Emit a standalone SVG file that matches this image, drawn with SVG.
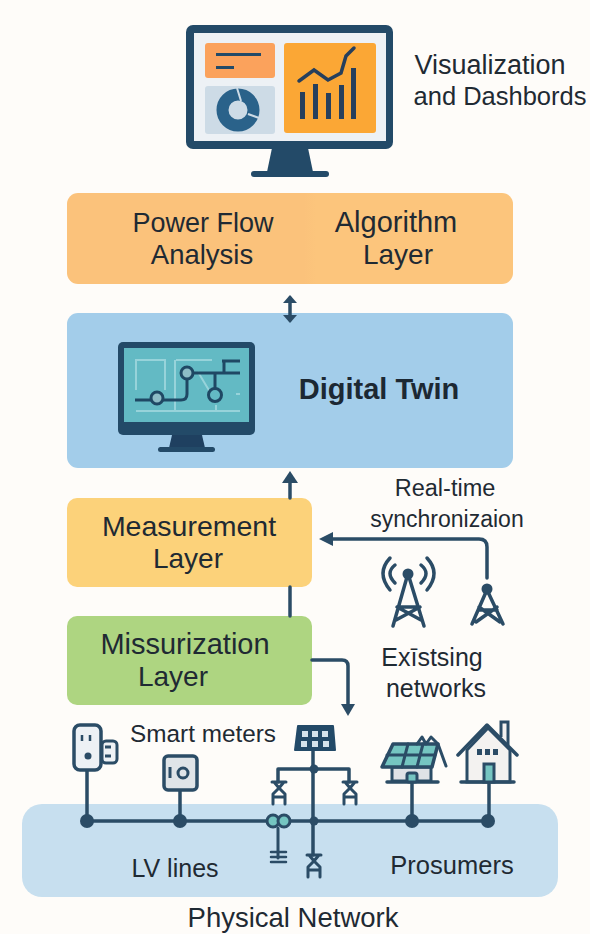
<svg xmlns="http://www.w3.org/2000/svg" width="590" height="934" viewBox="0 0 590 934">
<style>
text{font-family:"Liberation Sans",Arial,sans-serif;font-size:27px;fill:#1f2a33;text-anchor:middle}
.s{fill:none;stroke:#2b4c66;stroke-width:3.5;stroke-linecap:round;stroke-linejoin:round}
.t{fill:none;stroke:#2b4c66;stroke-width:3.5;stroke-linejoin:round;stroke-linecap:round}
.d{fill:#2b4c66}
.k{fill:none;stroke:#1f4864;stroke-width:3}
</style>
<defs>
<linearGradient id="alg" x1="0" x2="1" y1="0" y2="0"><stop offset="0.53" stop-color="#fbc27b"/><stop offset="0.56" stop-color="#fcc57c"/></linearGradient>
<g id="plug"><path class="t" style="stroke-width:3" d="M-7 -11H7M-5 -11L0 -5L5 -11Z"/><path class="t" style="stroke-width:3" d="M-6 11V1L0 -5L6 1V11M-6 4H6"/></g>
</defs>
<rect width="590" height="934" fill="#fefcf9"/>
<g id="physical-network"><rect x="22" y="804" width="536" height="93" rx="20" fill="#c7dfef"/>
<text x="293" y="927" style="font-size:27.500px">Physical Network</text><text x="175" y="877" style="font-size:25px">LV lines</text><text x="452" y="874" style="font-size:25.500px">Prosumers</text></g>
<g id="dashboard">
<rect x="186" y="25" width="207" height="124" rx="7" fill="#234a68"/><rect x="194" y="33" width="192" height="108" fill="#edf1f5"/>
<path d="M272 148H308L313 172H267Z" fill="#234a68"/><rect x="251" y="171" width="78" height="6" rx="3" fill="#234a68"/>
<rect x="205" y="43" width="70" height="35" rx="3" fill="#fba25c"/><rect x="216" y="53" width="45" height="3" fill="#234a68"/><rect x="216" y="66" width="18" height="3" fill="#234a68"/>
<rect x="205" y="86" width="70" height="48" rx="3" fill="#cddbe6"/>
<circle cx="238" cy="110" r="15.500" fill="none" stroke="#2a628a" stroke-width="12"/><path d="M237 88L241 101M259 118L248 114" stroke="#cddbe6" stroke-width="2"/>
<rect x="284" y="43" width="92" height="90" rx="3" fill="#fba735"/>
<path d="M300 92H305V119H300ZM313 84H318V119H313ZM326 93H331V119H326ZM339 85H344V119H339ZM351 68H356V119H351Z" fill="#263f5c"/>
<path d="M299 81L314 70L328 80L341 73L346 56L354 48" fill="none" stroke="#263f5c" stroke-width="3.500" stroke-linecap="round"/>
<text x="490" y="74">Visualization</text><text x="500" y="105" style="font-size:25.500px">and Dashbords</text></g>
<g id="algorithm-layer"><rect x="67" y="193" width="446" height="91" rx="11" fill="url(#alg)"/>
<text x="203" y="232">Power Flow</text><text x="202" y="264" style="font-size:27.500px">Analysis</text><text x="396" y="232" style="font-size:29px">Algorithm</text><text x="398" y="264" style="font-size:28px">Layer</text></g>
<g id="digital-twin"><rect x="67" y="313" width="446" height="155" rx="11" fill="#a3cdea"/>
<rect x="118" y="342" width="137" height="93" rx="5" fill="#234a68"/><rect x="124" y="348" width="125" height="74" fill="#63bac4"/>
<path d="M172 435H202L205 448H169Z" fill="#1f4060"/><rect x="158" y="447" width="57" height="5" rx="2.500" fill="#234a68"/>
<path d="M136 411H240M136 390V360H165V390M176 360H212M175 360V411M198 372L210 392M236 394H240M216 405V411" fill="none" stroke="#97d3da" stroke-width="2"/>
<path d="M135 400H181Q187 400 187 394V373H240M215 373V388M224 361V373M222 361H240" class="k"/>
<circle cx="157" cy="398" r="6" fill="#8dbcc6" stroke="#1f4864" stroke-width="3"/><circle cx="187" cy="373" r="6" fill="#8dbcc6" stroke="#1f4864" stroke-width="3"/><circle cx="215" cy="395" r="6.500" fill="#63bac4" stroke="#1f4864" stroke-width="3"/>
<text x="379" y="399" style="font-weight:bold;font-size:29px;fill:#1c2833">Digital Twin</text></g>
<g id="measurement-layer"><rect x="67" y="498" width="245" height="89" rx="10" fill="#fcd27a"/><text x="189" y="536" style="font-size:28.500px">Measurement</text><text x="188" y="568" style="font-size:28px">Layer</text></g>
<g id="missurization-layer"><rect x="67" y="616" width="245" height="89" rx="10" fill="#aed581"/><text x="185" y="654" style="font-size:29px">Missurization</text><text x="173" y="686" style="font-size:28px">Layer</text></g>
<g id="connectors">
<path class="s" d="M290 298V320"/><path class="d" d="M290 295L297 303H283ZM290 323L297 315H283Z"/>
<path class="s" d="M290 498V480"/><path class="d" d="M290 471L298 483H282Z"/>
<path class="s" d="M290 587V616"/>
<path class="s" d="M487 578V547Q487 539 479 539H328"/><path class="d" d="M319 539L333 532V546Z"/>
<path class="s" d="M312 660H342Q348 660 348 666V705"/><path class="d" d="M348 716L341 704H355Z"/>
</g>
<g id="towers">
<path class="t" d="M407 577L393 626M409 577L424 626M399 607H418M396 620L420 607M421 620L397 607"/>
<circle cx="408" cy="574" r="5.500" class="d"/>
<path class="t" d="M395 565Q385 573 395 583M390 558Q376 573 390 590M421 565Q431 573 421 583M427 558Q441 573 427 590"/>
<path class="t" d="M486 592L472 624M488 592L503 624M479 610H497M476 622L497 607M500 622L479 607"/>
<circle cx="487" cy="589" r="5.500" class="d"/>
<text x="445" y="496" style="font-size:23.500px">Real-time</text><text x="447" y="527" style="font-size:23px">synchronizaion</text>
<text x="432" y="666" style="font-size:25px">Exīstsing</text><text x="436" y="697" style="font-size:25px">networks</text></g>
<g id="lv-bus">
<path class="s" d="M87 821H489M87 770V821M180 790V821M412 780V821M489 780V821M313 745V855M278 769H349M278 769V782M349 769V782"/>
<path class="s" d="M278 828V858" style="stroke-width:3"/>
<path class="t" d="M271 852H286M271 857H286M271 862H286" style="stroke-width:2.500"/>
<circle cx="87" cy="821" r="7" class="d"/><circle cx="180" cy="821" r="7" class="d"/><circle cx="412" cy="821" r="7" class="d"/><circle cx="488" cy="821" r="7" class="d"/><circle cx="314" cy="821" r="4.500" class="d"/><circle cx="314" cy="769" r="4.500" class="d"/>
<circle cx="273" cy="821" r="6" fill="#75c5c1" stroke="#2b4c66" stroke-width="3"/><circle cx="284" cy="821" r="6" fill="#75c5c1" stroke="#2b4c66" stroke-width="3"/>
<use href="#plug" x="279" y="793"/><use href="#plug" x="350" y="793"/><use href="#plug" x="314" y="866"/>
</g>
<g id="smart-meters">
<rect x="74" y="725" width="27" height="45" rx="6" fill="#edf1f5" stroke="#2b4c66" stroke-width="3.500"/>
<path d="M82 735V741M90 735V741" stroke="#2b4c66" stroke-width="2.500"/><circle cx="88" cy="756" r="3.500" class="d"/>
<rect x="102" y="741" width="15" height="22" rx="4" fill="#edf1f5" stroke="#2b4c66" stroke-width="3"/><path d="M105 747H111M105 756H111" stroke="#2b4c66" stroke-width="3"/>
<rect x="164" y="756" width="33" height="34" rx="4" fill="#dfe4e8" stroke="#2b4c66" stroke-width="3.500"/>
<path d="M170 767V778" stroke="#2b4c66" stroke-width="3"/><circle cx="183" cy="773" r="5" fill="none" stroke="#2b4c66" stroke-width="3"/>
<text x="203" y="742" style="font-size:24.300px">Smart meters</text></g>
<g id="solar-panel">
<path d="M298 726H333L335 750H295Z" fill="#234a68" stroke="#234a68" stroke-width="2" stroke-linejoin="round"/>
<path d="M302 731h6v6h-6zM312 731h6v6h-6zM322 731h6v6h-6zM301 741h6v6h-6zM312 741h6v6h-6zM323 741h6v6h-6z" fill="#d5e3ec"/></g>
<g id="prosumer-roof">
<path d="M392 767H431V781H392Z" fill="#dfe2e6" stroke="#2b4c66" stroke-width="3"/>
<path d="M387 782H438" class="t"/>
<path d="M393 744H438L432 767H382Z" fill="#75c5c1" stroke="#2b4c66" stroke-width="3.500" stroke-linejoin="round"/>
<path d="M408 744L402 767M423 744L417 767M387 755H435" class="t" style="stroke-width:3"/>
<path d="M438 744L446 766M417 744L422 737L426 744L431 737L438 744" class="t" style="stroke-width:3"/>
<rect x="407" y="773" width="10" height="9" rx="2" fill="#75c5c1" stroke="#2b4c66" stroke-width="3"/></g>
<g id="prosumer-house">
<path d="M467 750V782H510V750L488 728Z" fill="#f3f2f0" stroke="#2b4c66" stroke-width="3"/>
<path d="M501 737V722H508V745" fill="#f3f2f0" stroke="#2b4c66" stroke-width="3"/>
<path d="M458 755L487 725L517 755" class="t"/>
<path d="M461 782H514" class="t"/>
<rect x="484" y="764" width="10" height="18" fill="#75c5c1" stroke="#2b4c66" stroke-width="3"/>
<path d="M477 749h5v6h-5zM485 749h5v6h-5zM493 749h5v6h-5z" class="d"/></g>
</svg>
